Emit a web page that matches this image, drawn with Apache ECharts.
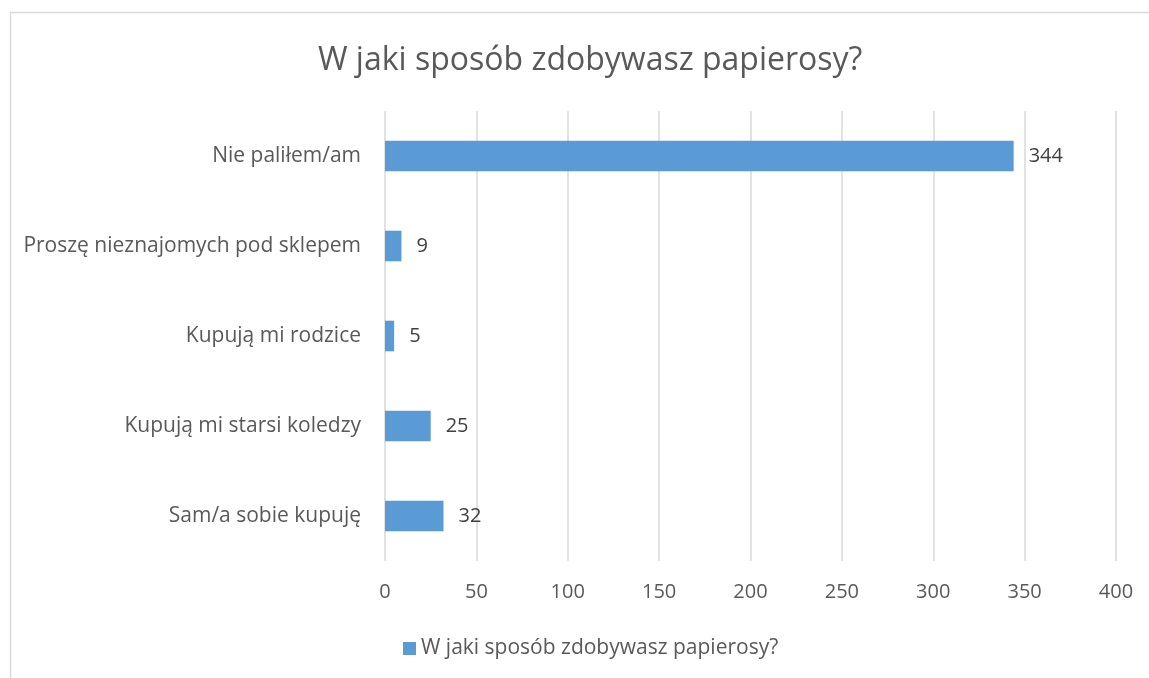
<!DOCTYPE html>
<html>
<head>
<meta charset="utf-8">
<script src="https://cdn.jsdelivr.net/npm/echarts@6/dist/echarts.min.js"></script>
<style>
  html, body { margin: 0; padding: 0; background: #fff; }
  #main { width: 1149px; height: 678px; }
</style>
</head>
<body>
<div id="main"></div>
<script>
  let categories = ['Nie paliłem/am', 'Proszę nieznajomych pod sklepem', 'Kupują mi rodzice', 'Kupują mi starsi koledzy', 'Sam/a sobie kupuję'];
  let values = [344, 9, 5, 25, 32];
  let seriesName = 'W jaki sposób zdobywasz papierosy?';
  let font = 'Open Sans';

  var myChart = echarts.init(document.getElementById('main'));
  var option = {
    animation: false,
    textStyle: { fontFamily: font },
    graphic: [{
      type: 'rect',
      shape: { x: 10.5, y: 12.5, width: 1200, height: 700 },
      style: { fill: 'none', stroke: '#d9d9d9', lineWidth: 1.5 },
      silent: true
    }],
    title: {
      text: 'W jaki sposób zdobywasz papierosy?',
      left: 313,
      top: 40,
      textStyle: { color: '#595959', fontSize: 32, fontWeight: 'normal', fontFamily: font }
    },
    legend: {
      top: 633,
      left: 398,
      itemWidth: 13,
      itemHeight: 13,
      itemGap: 6,
      icon: 'rect',
      textStyle: { color: '#595959', fontSize: 21, fontFamily: font }
    },
    grid: { left: 385, right: 33, top: 111, bottom: 117, containLabel: false },
    xAxis: {
      type: 'value',
      min: 0,
      max: 400,
      interval: 50,
      axisLine: { show: false },
      axisTick: { show: false },
      axisLabel: { color: '#595959', fontSize: 20, margin: 21, fontFamily: font },
      splitLine: { lineStyle: { color: '#d9d9d9', width: 1.5 } }
    },
    yAxis: {
      type: 'category',
      data: categories,
      inverse: true,
      axisLine: { show: false },
      axisTick: { show: false },
      axisLabel: { color: '#595959', fontSize: 21, margin: 24, fontFamily: font }
    },
    series: [{
      name: seriesName,
      type: 'bar',
      data: values,
      barWidth: '34%',
      itemStyle: { color: '#5b9bd5' },
      label: {
        show: true,
        position: 'right',
        distance: 15,
        color: '#404040',
        fontSize: 20,
        fontFamily: font
      }
    }]
  };
  myChart.setOption(option);
</script>
</body>
</html>
